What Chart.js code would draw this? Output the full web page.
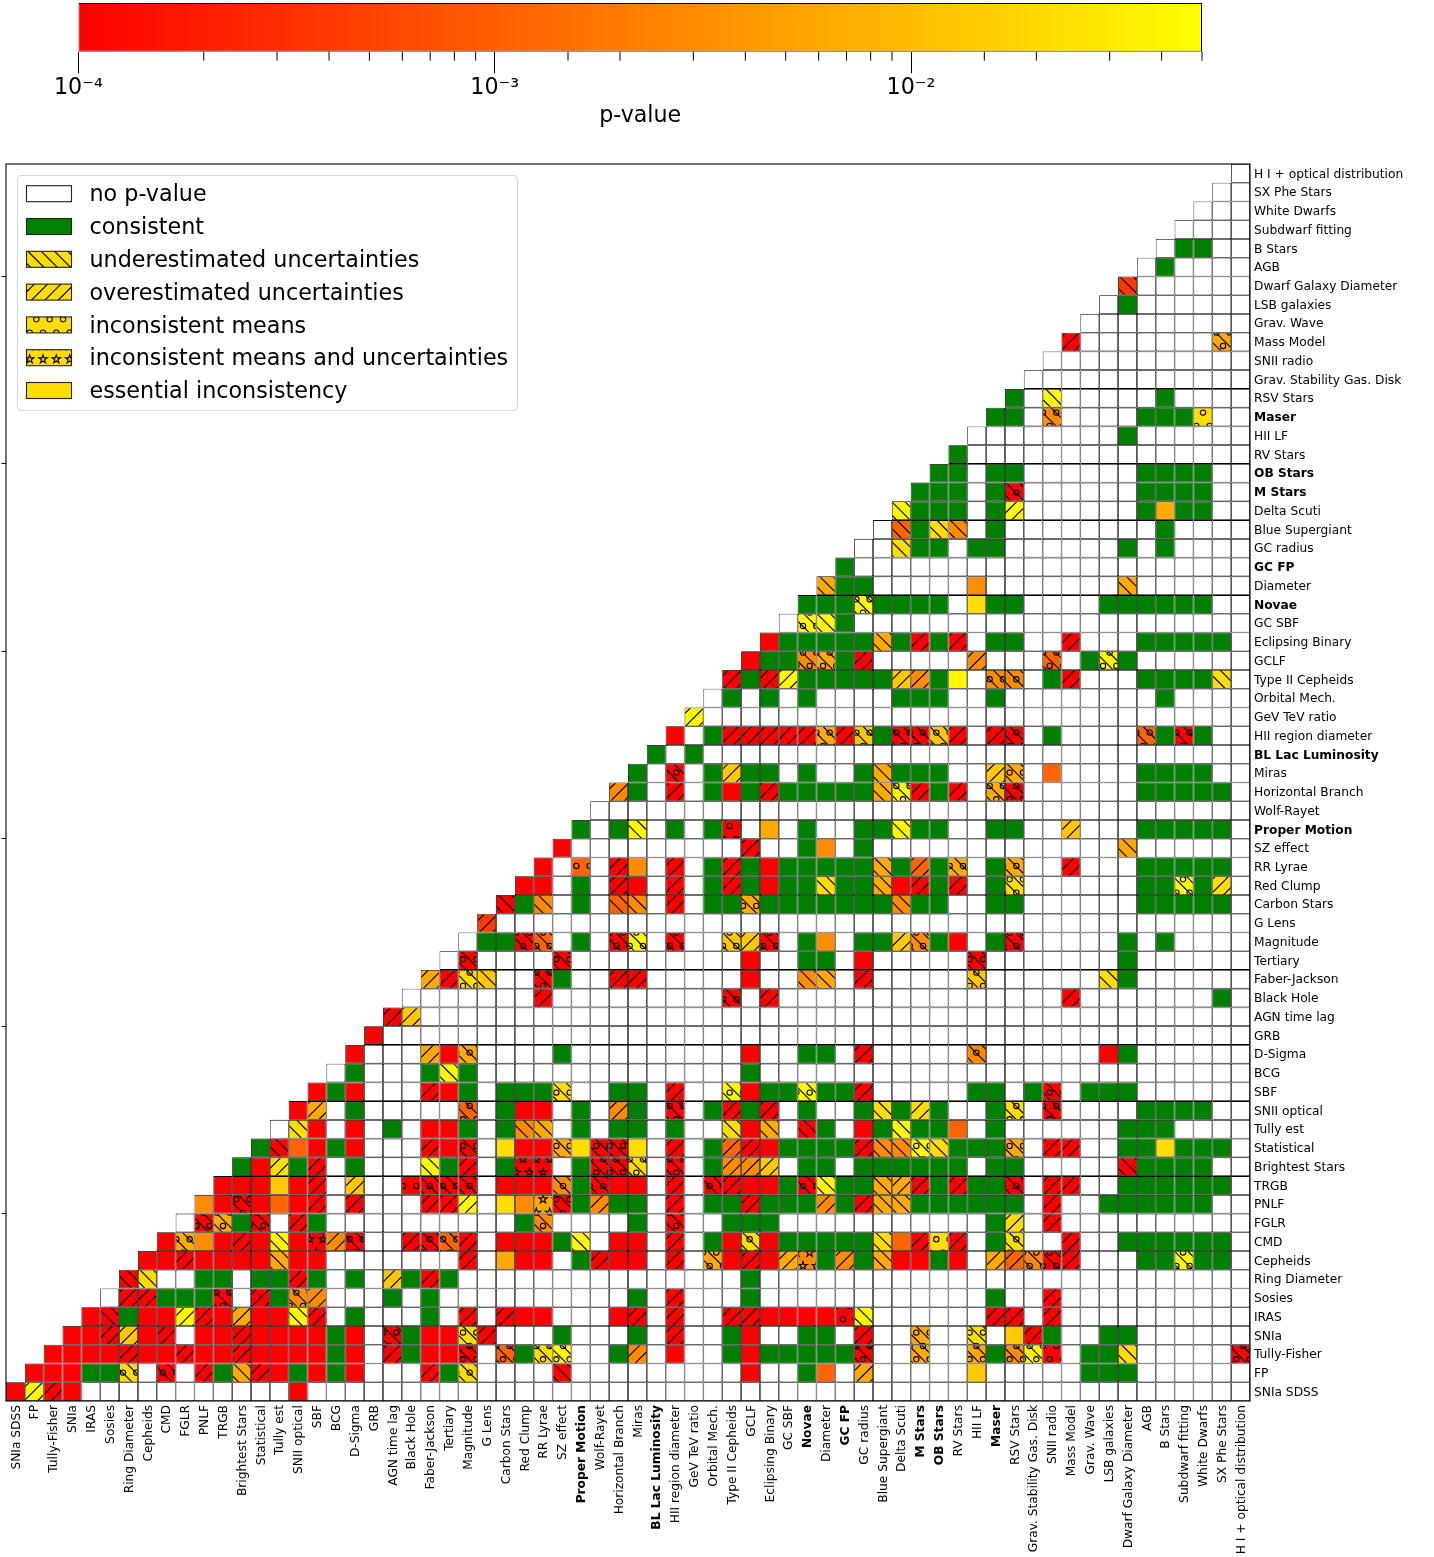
<!DOCTYPE html>
<html>
<head>
<meta charset="utf-8">
<title>p-value matrix</title>
<script src="https://cdn.jsdelivr.net/npm/chart.js@4/dist/chart.umd.min.js"></script>
<style>
html,body{margin:0;padding:0;background:#fff;}
#wrap{position:relative;width:1434px;height:1557px;overflow:hidden;}
#main{position:absolute;left:0;top:0;}
#bar{position:absolute;left:0;top:0;}
</style>
</head>
<body>
<div id="wrap">
<canvas id="main" width="1434" height="1557"></canvas>
<canvas id="bar" width="1434" height="130"></canvas>
</div>
<script>
const categories = ["SNIa SDSS","FP","Tully-Fisher","SNIa","IRAS","Sosies","Ring Diameter","Cepheids","CMD","FGLR","PNLF","TRGB","Brightest Stars","Statistical","Tully est","SNII optical","SBF","BCG","D-Sigma","GRB","AGN time lag","Black Hole","Faber-Jackson","Tertiary","Magnitude","G Lens","Carbon Stars","Red Clump","RR Lyrae","SZ effect","Proper Motion","Wolf-Rayet","Horizontal Branch","Miras","BL Lac Luminosity","HII region diameter","GeV TeV ratio","Orbital Mech.","Type II Cepheids","GCLF","Eclipsing Binary","GC SBF","Novae","Diameter","GC FP","GC radius","Blue Supergiant","Delta Scuti","M Stars","OB Stars","RV Stars","HII LF","Maser","RSV Stars","Grav. Stability Gas. Disk","SNII radio","Mass Model","Grav. Wave","LSB galaxies","Dwarf Galaxy Diameter","AGB","B Stars","Subdwarf fitting","White Dwarfs","SX Phe Stars","H I + optical distribution"];
const boldCategories = ["Proper Motion","BL Lac Luminosity","Novae","GC FP","M Stars","OB Stars","Maser"];

// p-value levels
const pLevels = {R:1e-4,E:4e-4,D:1.15e-3,O:3e-3,A:6.3e-3,C:1.3e-2,Y:2.2e-2,L:4.2e-2};
// hatch codes: u underestimated, v overestimated, m means, b means + underestimated, s means and uncertainties
// One string per row (row = category index, bottom to top): <column index><level or G><hatch code>
const rowCells = [
"0R 1Lv 2Rv 3R 15R",
"1R 2R 3R 4G 5G 6Yb 8Rb 10Rv 11G 12Au 13Rv 14R 15G 16R 17G 18R 22Rv 23G 24Yb 29Ru 39R 42G 43D 45Av 51C 57G 58G 59G",
"2R 3R 4R 5R 6Rv 7R 8R 9Rv 10R 11R 12Rv 13R 14R 15R 16R 17G 18R 20Rv 21G 22R 23R 24Rb 26Db 27G 28Yb 29Lb 32G 33Ov 35R 38G 39R 40G 41G 42G 43G 44G 45Rb 48Ab 51Ab 52G 53Ob 54Lb 55Rm 57G 58G 59Yu 65Rb",
"3R 4R 5Rv 6Cv 7R 8Rv 10R 11R 12Rv 13R 14R 15R 16R 17G 18R 20Rb 21G 22R 23R 24Yb 25Rv 29G 33G 35Rv 38G 39R 42G 43G 45Rv 48Ab 51Yb 53C 54Rv 55G 58G 59G",
"4R 5Ru 6G 7R 8R 9Lv 10Rv 11R 12Av 13R 14R 15Lu 16Rv 18G 22G 24Rv 26Rv 27R 28R 32R 33Rv 35Rv 38Rv 39Rv 40R 41R 42R 43R 44Rm 45Lu 52Rv 53Rv 55Rv",
"6Rv 7Rv 8G 9G 10G 11Rb 13Rv 14G 15Ob 16Ov 20G 22G 33G 35Rv 39G 52G 55Rv",
"6Ru 7Yu 10G 11G 13G 14G 15Rv 16G 18G 20Cv 21G 22Rv 23G 39G",
"7R 8R 9Rv 10R 11R 12R 13R 14Au 15R 16R 24Rv 26A 27R 28R 30G 31Rv 32R 33R 35Rv 37Ab 38R 39Rv 40R 41Av 42Os 43G 44Ov 45G 46Au 47R 48R 49G 50R 52Av 53Dv 54Ob 55Rb 56Rv 60G 61G 62Lb 63G 64G",
"8R 9Ab 10O 11R 12Rv 13R 14Lu 15R 16Rs 17Ov 18Rb 21Rv 22Rb 23Db 24Rv 26R 27R 28R 29G 30Lu 32R 33R 35Rv 37G 38R 39Yb 40R 41G 42G 43G 44G 45G 46Yu 47D 48Rv 49Ym 50Rv 52G 53Yb 56Rv 59G 60G 61G 62G 63G 64G",
"10Rb 11Ab 12G 13Rb 15Rv 16G 27G 28Ob 33G 35Rb 38G 39G 40G 52G 53Yv 55Rv",
"10O 11R 12Rb 13R 14D 15R 16Rv 18Rv 22Rv 23Rv 24Lv 26Y 27O 28As 29Rb 30G 31Ov 32G 33G 35Rv 37G 38G 39Rv 40G 41G 42G 43Ov 44G 45Rv 46Au 47Au 48G 49G 50G 51G 52G 53G 55Rv 58G 59G 60G 61G 62G 63G",
"11R 12R 13R 14C 15R 16Rv 18Cv 21Rm 22Rb 23Rb 24Rb 26R 27R 28R 29Ob 30G 31Rb 32R 33R 35Rv 37Rb 38Rv 39R 40R 41G 42Rb 43Lu 44G 45G 46Au 47Av 48Rv 49G 50Rv 51G 52G 53Rb 55Rv 56Rv 59G 60G 61G 62G 63G 64G",
"12G 13R 14Yv 15G 16Rv 18G 22Lu 23G 24Rv 26G 27Rs 28Rs 30G 31Rb 32Rb 33Yb 35Rb 37G 38Ov 39Ov 40Cv 42G 43G 45G 46G 47G 48G 49G 50G 52G 53G 59Ru 60G 61G 62G 63G",
"13G 14Ru 15D 16R 17G 18R 22Rv 23R 24Rb 26Y 27R 28R 29Ab 30Y 31Rb 32Rb 33Y 35Rv 37G 38Dv 39Rv 40R 41G 42G 43G 44G 45Rv 46Ou 47Ou 48Lb 49Yu 50G 51G 52G 53Ab 55Rv 56Rv 59G 60G 61Y 62G 63G 64G",
"15Yu 16R 18R 20G 22R 23R 24G 26G 27Ou 28Au 30G 32G 33G 35G 38Yu 39R 40Au 42Ru 43G 45R 46G 47Lu 48G 49G 50D 52G 59G 60G 61G",
"15R 16Av 18G 24Db 26G 27R 28R 30G 32Ov 33G 35Rb 37G 38Rv 39G 40Rv 42G 45G 46Yu 47G 48Yv 49G 52G 53Yb 55Rb 60G 61G 62G 63G",
"16R 17G 18R 22Rv 23R 24G 26G 27G 28G 29Yb 32G 33G 35Rv 38Lb 39R 40G 41G 42Lb 43G 44G 45Rv 51G 52G 54G 55Rb 57G 58G 59G",
"18G 22G 23Lu 24G 39G",
"18R 22Av 23R 24Ab 29G 39R 42G 43G 45Rv 51Ob 58R 59G",
"19R",
"20Rv 21Cv",
"28Rv 38Rb 40Rv 56Rv 64G",
"22Av 23Rv 24Yb 25Cu 28Rb 29G 32Rv 33Rv 39R 42Ou 43Au 45Rv 51Cb 58Yu 59G",
"24Rb 29Rb 39R 42G 43G 45R 51Rb 59G",
"25G 26G 27Rb 28Db 30G 32Rb 33Lb 35Rb 38Cb 39Cv 40Rb 42G 43O 45G 46G 47Cv 48Ob 49G 50R 52G 53Rb 59G 61G",
"25Ev",
"26Ru 27G 28Ou 30G 32Du 33Ou 35Rv 37G 38G 39Ab 40G 41G 42G 43G 44G 45G 46G 47Ou 48G 49G 52G 53G 60G 61G 62G 63G 64G",
"27R 28R 30G 32Rv 33R 35Rv 37G 38Rv 39G 40R 41G 42G 43Yu 44G 45G 46Au 47R 48Rv 49G 50Rv 52G 53Yb 60G 61G 62Lb 63G 64Yv",
"28R 30Dm 32Rv 33O 35Rv 37G 38Rv 39G 40R 41G 42G 43G 44G 45G 46Au 47G 48Dv 49G 50Ab 52G 53Ab 56Rv 60G 61G 62G 63G 64G",
"29R 39Rv 42G 43O 45G 59Au",
"30G 32G 33Lu 35G 37G 38Rm 40A 42G 45G 46G 47Lu 48G 49G 52G 53G 56Cv 60G 61G 62G 63G 64G",
"",
"32Ov 33G 35Rv 37G 38R 39G 40Rv 41G 42G 43G 44G 45G 46Au 47Lb 48Rv 49G 50Rv 52Ab 53Rb 60G 61G 62G 63G 64G",
"33G 35Rb 37G 38Cv 39G 40G 42G 45G 46Au 47G 48G 49G 52Cv 53Ab 55D 60G 61G 62G 63G",
"34G 36G",
"35R 37G 38Rv 39Rv 40Rv 41Rv 42Rv 43Ab 44Rv 45Cb 46G 47Rb 48Rb 49Cb 50Rv 52Rv 53Rb 55G 60Db 61G 62Rb 63G",
"36Lv",
"38G 40G 42G 47G 48G 49G 52G 61G",
"38Rv 39G 40Rv 41Lv 42G 43G 44G 45G 46G 47Cv 48Ov 49G 50L 52Ob 53Ob 55G 56Rv 60G 61G 62G 63G 64Yu",
"39R 40G 41G 42Ob 43Ab 44G 45Rv 51Ov 55Db 57G 58Lb 59G",
"40R 41G 42G 43G 44G 45G 46Au 47G 48Rv 49G 50Rv 52G 53G 56Rv 60G 61G 62G 63G 64G",
"42Lb 43Lu 44G",
"42G 43G 44G 45Lb 46G 47G 48G 49G 51Y 52G 53G 58G 59G 60G 61G 62G 63G",
"43Au 44G 45G 51O 59Au",
"44G",
"47Yu 48G 49G 51G 52G 59G 61G",
"47Du 48G 49Yu 50Ou 52G 61G",
"47Lu 48G 49G 50G 52G 53Lv 60G 61A 62G 63G",
"48G 49G 50G 52G 53Rb 60G 61G 62G 63G",
"49G 50G 52G 53G 60G 61G 62G 63G",
"50G",
"59G",
"52G 53G 55Ob 60G 61G 62G 63Ym",
"53G 55Lu 61G",
"",
"",
"56Rv 64Ab",
"",
"59G",
"59Eu",
"61G",
"62G 63G",
"",
"",
"",
""
];
const legendNames = ["no p-value","consistent","underestimated uncertainties","overestimated uncertainties","inconsistent means","inconsistent means and uncertainties","essential inconsistency"];
const legendHatches = ["","","u","v","m","s",""];
const cbMin = 1e-4, cbMax = 0.05;
const cbLabels = {"-4":"10\u207B\u2074","-3":"10\u207B\u00B3","-2":"10\u207B\u00B2"};

const FONT = "'DejaVu Sans'";
const GOLD = "#FFDD00", GREEN = "#008000";
const TILE = 80, STEP = TILE/6;
// phases of the hatch grid on the canvas
const PH = {slash:11.7, back:3.3, rowY:12.6, rowX:3};

function cmap(p){
  const t = Math.log10(p/cbMin)/Math.log10(cbMax/cbMin);
  return "rgb(255,"+Math.round(255*Math.min(1,Math.max(0,t)))+",0)";
}
const patCache = {};
function star(c,x,y,r){
  c.moveTo(x,y-r);
  for(let k=1;k<10;k++){
    const a=-Math.PI/2+k*Math.PI/5, rr=k%2?r*0.382:r;
    c.lineTo(x+rr*Math.cos(a),y+rr*Math.sin(a));
  }
  c.closePath();
}
function fillFor(ctx,color,hatch){
  if(!hatch) return color;
  const key=color+hatch;
  if(patCache[key]) return patCache[key];
  const t=document.createElement("canvas"); t.width=TILE; t.height=TILE;
  const c=t.getContext("2d");
  c.fillStyle=color; c.fillRect(0,0,TILE,TILE);
  c.strokeStyle="#000"; c.lineWidth=1.11; c.lineCap="butt";
  c.beginPath();
  if(hatch==="v"){
    for(let k=-7;k<14;k++){ const s=PH.slash+k*STEP; c.moveTo(s,0); c.lineTo(s-TILE,TILE); }
  }
  if(hatch==="u"||hatch==="b"){
    for(let k=-7;k<14;k++){ const s=PH.back+k*STEP; c.moveTo(s,0); c.lineTo(s+TILE,TILE); }
  }
  c.stroke();
  if(hatch==="m"||hatch==="b"||hatch==="s"){
    for(let r=-1;r<8;r++){
      const y=PH.rowY+r*STEP, off=PH.rowX+((r%2+2)%2)*STEP/2;
      for(let q=-1;q<8;q++){
        const x=off+q*STEP;
        c.beginPath();
        if(hatch==="s") star(c,x,y,4.44); else c.arc(x,y,2.67,0,Math.PI*2);
        c.stroke();
      }
    }
  }
  patCache[key]=ctx.createPattern(t,"repeat");
  return patCache[key];
}

const mainCtx=document.getElementById("main").getContext("2d");
const n=categories.length;
function parseRow(str){
  const out={};
  str.split(" ").filter(Boolean).forEach(tok=>{
    const m=tok.match(/^(\d+)([A-Z])([a-z]?)$/);
    const col=+m[1];
    const base=m[2]==="G"?GREEN:cmap(pLevels[m[2]]);
    out[col]=fillFor(mainCtx,base,m[3]);
  });
  return out;
}
const datasets=rowCells.map((str,i)=>{
  const cells=parseRow(str);
  return {
    label:categories[i],
    data:categories.map((_,j)=>j>=i?1:null),
    backgroundColor:categories.map((_,j)=>cells[j]||"#ffffff"),
    borderColor:"#000",
    borderWidth:0.8,
    borderSkipped:false,
    inflateAmount:0,
    barPercentage:1,
    categoryPercentage:1
  };
});

const framePlugin={
  id:"frame",
  afterDraw(chart){
    const c=chart.ctx,a=chart.chartArea;
    c.save();
    c.strokeStyle="#000"; c.lineWidth=1.1;
    c.strokeRect(a.left,a.top,a.right-a.left,a.bottom-a.top);
    // legend
    const lx=17.5,ly=175.5,lw=500,lh=235;
    c.beginPath(); c.roundRect(lx,ly,lw,lh,4);
    c.fillStyle="rgba(255,255,255,0.8)"; c.fill();
    c.strokeStyle="#d5d5d5"; c.lineWidth=1.1; c.stroke();
    const rowH=32.8;
    legendNames.forEach((name,i)=>{
      const y=185.7+i*rowH;
      let col=GOLD;
      if(i===0) col="#ffffff";
      if(i===1) col=GREEN;
      c.fillStyle=fillFor(c,col,legendHatches[i]);
      c.fillRect(26.5,y,45,16);
      c.strokeStyle="#222"; c.lineWidth=1.1;
      c.strokeRect(26.5,y,45,16);
      c.fillStyle="#000";
      c.font="22.25px "+FONT;
      c.textBaseline="middle"; c.textAlign="left";
      c.fillText(name,89.5,y+10);
    });
    c.restore();
  }
};
const rightLabels=categories.slice().reverse();
new Chart(mainCtx,{
  type:"bar",
  data:{labels:categories,datasets},
  plugins:[framePlugin],
  options:{
    responsive:false,animation:false,
    layout:{padding:{top:164,left:0,right:0,bottom:0},autoPadding:false},
    plugins:{legend:{display:false},tooltip:{enabled:false}},
    scales:{
      x:{
        stacked:true,offset:true,
        grid:{display:false,drawTicks:false},border:{display:false},
        afterFit(s){s.height=156;},
        ticks:{
          autoSkip:false,minRotation:90,maxRotation:90,padding:4,labelOffset:1,color:"#000",
          font:c=>({family:FONT,size:12.22,weight:boldCategories.includes(categories[c.index])?"bold":"normal"})
        }
      },
      y:{
        stacked:true,min:0,max:n,position:"left",
        afterFit(s){s.width=6;},
        afterBuildTicks(s){s.ticks=s.ticks.filter(t=>t.value>0&&t.value%10===0);},
        ticks:{display:false,stepSize:10},
        grid:{drawOnChartArea:false,drawTicks:true,tickLength:4.4,color:"#000",lineWidth:1},
        border:{display:false}
      },
      yr:{
        type:"category",position:"right",labels:rightLabels,offset:true,
        afterFit(s){s.width=184;},
        grid:{display:false,drawTicks:false},border:{display:false},
        ticks:{
          autoSkip:false,padding:4,labelOffset:1,color:"#000",
          font:c=>({family:FONT,size:12.22,weight:boldCategories.includes(rightLabels[c.index])?"bold":"normal"})
        }
      }
    }
  }
});

// colour bar
const minorTicks={
  id:"minorTicks",
  afterDraw(chart){
    const s=chart.scales.x,c=chart.ctx,b=chart.chartArea.bottom;
    c.save(); c.strokeStyle="#000"; c.lineWidth=1;
    s.ticks.forEach(t=>{
      const lg=Math.log10(t.value);
      if(Math.abs(lg-Math.round(lg))<1e-6) return;
      const x=s.getPixelForValue(t.value);
      c.beginPath(); c.moveTo(x,b); c.lineTo(x,b+9); c.stroke();
    });
    c.restore();
  }
};
new Chart(document.getElementById("bar").getContext("2d"),{
  type:"bar",
  data:{labels:["p-value"],datasets:[{
    data:[[cbMin,cbMax]],
    backgroundColor(ctx){
      const a=ctx.chart.chartArea;
      if(!a) return "#f00";
      const g=ctx.chart.ctx.createLinearGradient(a.left,0,a.right,0);
      g.addColorStop(0,"#ff0000"); g.addColorStop(1,"#ffff00");
      return g;
    },
    borderColor:"#000",borderWidth:1,borderSkipped:false,inflateAmount:0,
    barPercentage:1,categoryPercentage:1
  }]},
  plugins:[minorTicks],
  options:{
    indexAxis:"y",responsive:false,animation:false,
    layout:{padding:{left:78.4,right:1434-1202,top:3,bottom:0},autoPadding:false},
    plugins:{legend:{display:false},tooltip:{enabled:false}},
    scales:{
      x:{
        type:"logarithmic",min:cbMin,max:cbMax,position:"bottom",
        afterFit(s){s.height=130-51.7;},
        border:{display:false},
        grid:{drawOnChartArea:false,drawTicks:true,tickLength:21.6,lineWidth:1,
          color:c=>{const v=c.tick?c.tick.value:1;const l=Math.log10(v);return Math.abs(l-Math.round(l))<1e-6?"#000":"rgba(0,0,0,0)";},
          tickColor:c=>{const v=c.tick?c.tick.value:1;const l=Math.log10(v);return Math.abs(l-Math.round(l))<1e-6?"#000":"rgba(0,0,0,0)";}
        },
        ticks:{
          autoSkip:false,maxRotation:0,minRotation:0,padding:2,color:"#000",
          font:{family:FONT,size:22.2},
          callback(v){const l=Math.log10(v);return Math.abs(l-Math.round(l))<1e-6?(cbLabels[String(Math.round(l))]||""):"";}
        },
        title:{display:true,text:"p-value",color:"#000",font:{family:FONT,size:22.2},padding:{top:0,bottom:0}}
      },
      y:{display:false}
    }
  }
});
</script>
</body>
</html>
